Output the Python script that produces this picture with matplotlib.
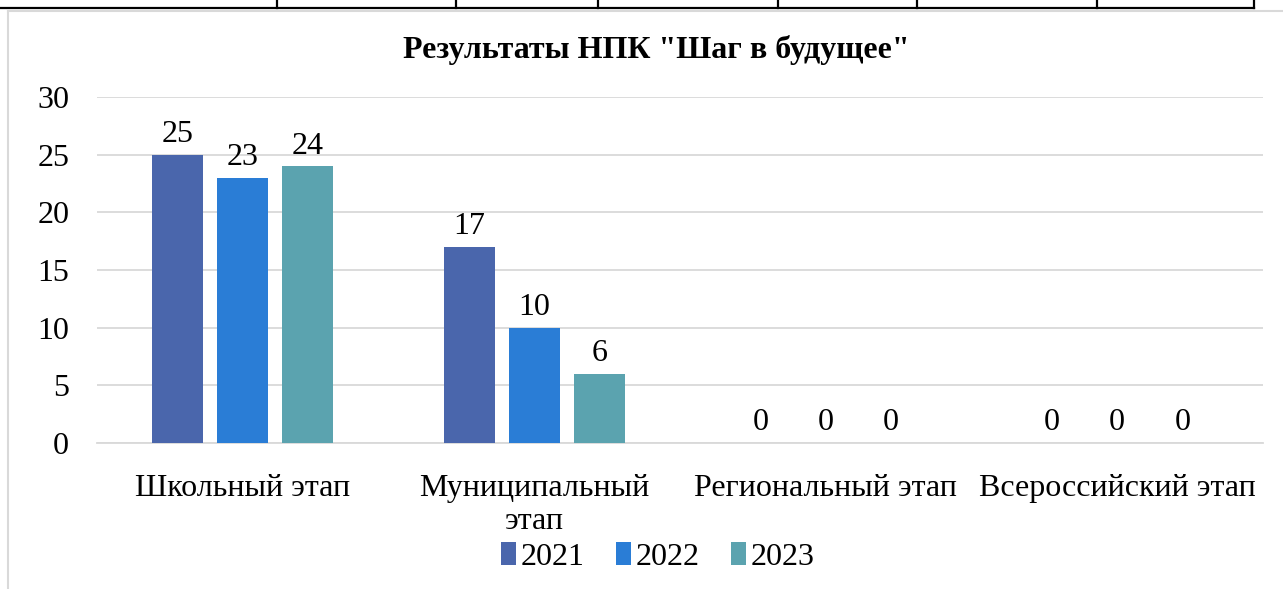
import matplotlib.pyplot as plt
from matplotlib.lines import Line2D
import numpy as np

plt.rcParams["font.family"] = ["Liberation Serif", "DejaVu Serif"]

categories = ["Школьный этап", "Муниципальный\nэтап", "Региональный этап", "Всероссийский этап"]
years = ["2021", "2022", "2023"]
values_2021 = [25, 17, 0, 0]
values_2022 = [23, 10, 0, 0]
values_2023 = [24, 6, 0, 0]
colors = ["#4a66ac", "#2a7dd6", "#5ba3af"]

W, H = 1283, 589
fig = plt.figure(figsize=(W / 100, H / 100), dpi=100)

# fragment of the table above the chart and the chart frame
fig.add_artist(Line2D([0, 1254 / W], [1 - 8 / H] * 2, color="black", lw=1.6))
for xv in [277, 456, 598, 778, 917, 1097, 1254]:
    fig.add_artist(Line2D([xv / W] * 2, [1 - 8 / H, 1], color="black", lw=1.6))
fig.add_artist(Line2D([8 / W, 1], [1 - 11 / H] * 2, color="#d9d9d9", lw=1.5))
fig.add_artist(Line2D([8 / W] * 2, [0, 1 - 11 / H], color="#d9d9d9", lw=1.5))

ax = fig.add_axes([97 / W, 1 - 443 / H, (1263 - 97) / W, (443 - 97) / H])

fs = 23
x = np.arange(len(categories))
step = 0.223
width = 0.175
for i, (vals, yr) in enumerate(zip([values_2021, values_2022, values_2023], years)):
    bars = ax.bar(x + (i - 1) * step, vals, width, color=colors[i], label=yr, zorder=3)
    for b, v in zip(bars, vals):
        ax.annotate(str(v), (b.get_x() + b.get_width() / 2, v), xytext=(0, 4),
                    textcoords="offset points", ha="center", va="bottom", fontsize=fs)

ax.set_xlim(-0.5, 3.5)
ax.set_ylim(0, 30)
ax.set_yticks(range(0, 31, 5))
ax.set_xticks(x)
ax.set_xticklabels(categories, fontsize=fs, linespacing=1.2)
ax.tick_params(axis="y", labelsize=fs, length=0, pad=20)
ax.tick_params(axis="x", length=0, pad=22)
ax.grid(axis="y", color="#d9d9d9", lw=1.3, zorder=0)
for s in ["top", "right", "left"]:
    ax.spines[s].set_visible(False)
ax.spines["bottom"].set_color("#d9d9d9")
ax.spines["bottom"].set_linewidth(1.3)

fig.text(656 / W, 1 - 50 / H, 'Результаты НПК "Шаг в будущее"', ha="center", va="center",
         fontsize=23, fontweight="bold")

fig.legend(loc="center", bbox_to_anchor=(658 / W, 1 - 557 / H), ncol=3, frameon=False,
           fontsize=fs, handlelength=0.45, handleheight=0.7, handletextpad=0.15, columnspacing=1.0)

fig.savefig("out.png", dpi=100)
